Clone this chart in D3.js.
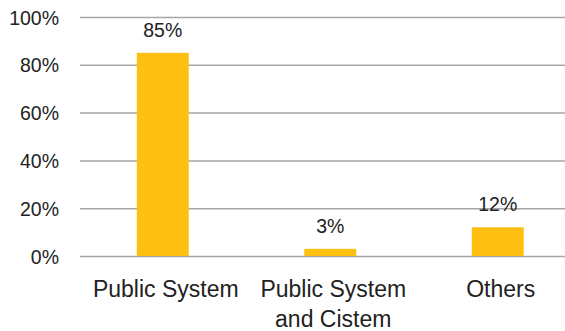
<!DOCTYPE html>
<html>
<head>
<meta charset="utf-8">
<script src="https://cdn.jsdelivr.net/npm/d3@7"></script>
<style>
  html, body { margin: 0; padding: 0; background: #fff; }
  svg { display: block; font-family: "Liberation Sans", Arial, sans-serif; }
</style>
</head>
<body>
<svg id="chart" width="565" height="331"></svg>
<script>
// Share of respondents by water supply source
const categories = [["Public System"], ["Public System", "and Cistem"], ["Others"]];
const values = [85, 3, 12];
const yTicks = [0, 20, 40, 60, 80, 100];

const svg = d3.select("#chart");
const W = 565;
const plotLeft = 80, bandLeft = 79, bandRight = 581.5, plotTop = 17, plotBottom = 256;

const x = d3.scaleBand()
  .domain(d3.range(categories.length))
  .range([bandLeft, bandRight])
  .paddingInner(0.69)
  .paddingOuter(0.345);

const y = d3.scaleLinear().domain([0, 100]).range([plotBottom, plotTop]);

// horizontal gridlines
const yAxis = d3.axisLeft(y)
  .tickValues(yTicks)
  .tickSize(-(W - plotLeft))
  .tickPadding(21)
  .tickFormat(d => d + "%");

const gy = svg.append("g")
  .attr("transform", `translate(${plotLeft},0)`)
  .call(yAxis);
gy.select(".domain").remove();
gy.selectAll(".tick line").attr("stroke", "#a6a6a6").attr("stroke-width", 1.5);
gy.selectAll(".tick text")
  .attr("fill", "#222")
  .style("font-size", "19.5px")
  .attr("dy", "0.36em");

// bars
svg.append("g").selectAll("rect")
  .data(values)
  .join("rect")
  .attr("x", (d, i) => x(i))
  .attr("width", x.bandwidth())
  .attr("y", d => y(d))
  .attr("height", d => y(0) - y(d))
  .attr("fill", "#fcbf12");

// value labels
svg.append("g").selectAll("text")
  .data(values)
  .join("text")
  .attr("x", (d, i) => x(i) + x.bandwidth() / 2)
  .attr("y", d => y(d) - 16)
  .attr("text-anchor", "middle")
  .attr("fill", "#222")
  .style("font-size", "19.5px")
  .text(d => d + "%");

// category labels
const cat = svg.append("g").selectAll("text")
  .data(categories)
  .join("text")
  .attr("x", (d, i) => x(i) + x.bandwidth() / 2 + 3)
  .attr("y", 297)
  .attr("text-anchor", "middle")
  .attr("fill", "#222")
  .style("font-size", "23px");
cat.selectAll("tspan")
  .data(d => d)
  .join("tspan")
  .attr("x", function () { return d3.select(this.parentNode).attr("x"); })
  .attr("dy", (d, j) => j === 0 ? 0 : 30)
  .text(d => d);
</script>
</body>
</html>
